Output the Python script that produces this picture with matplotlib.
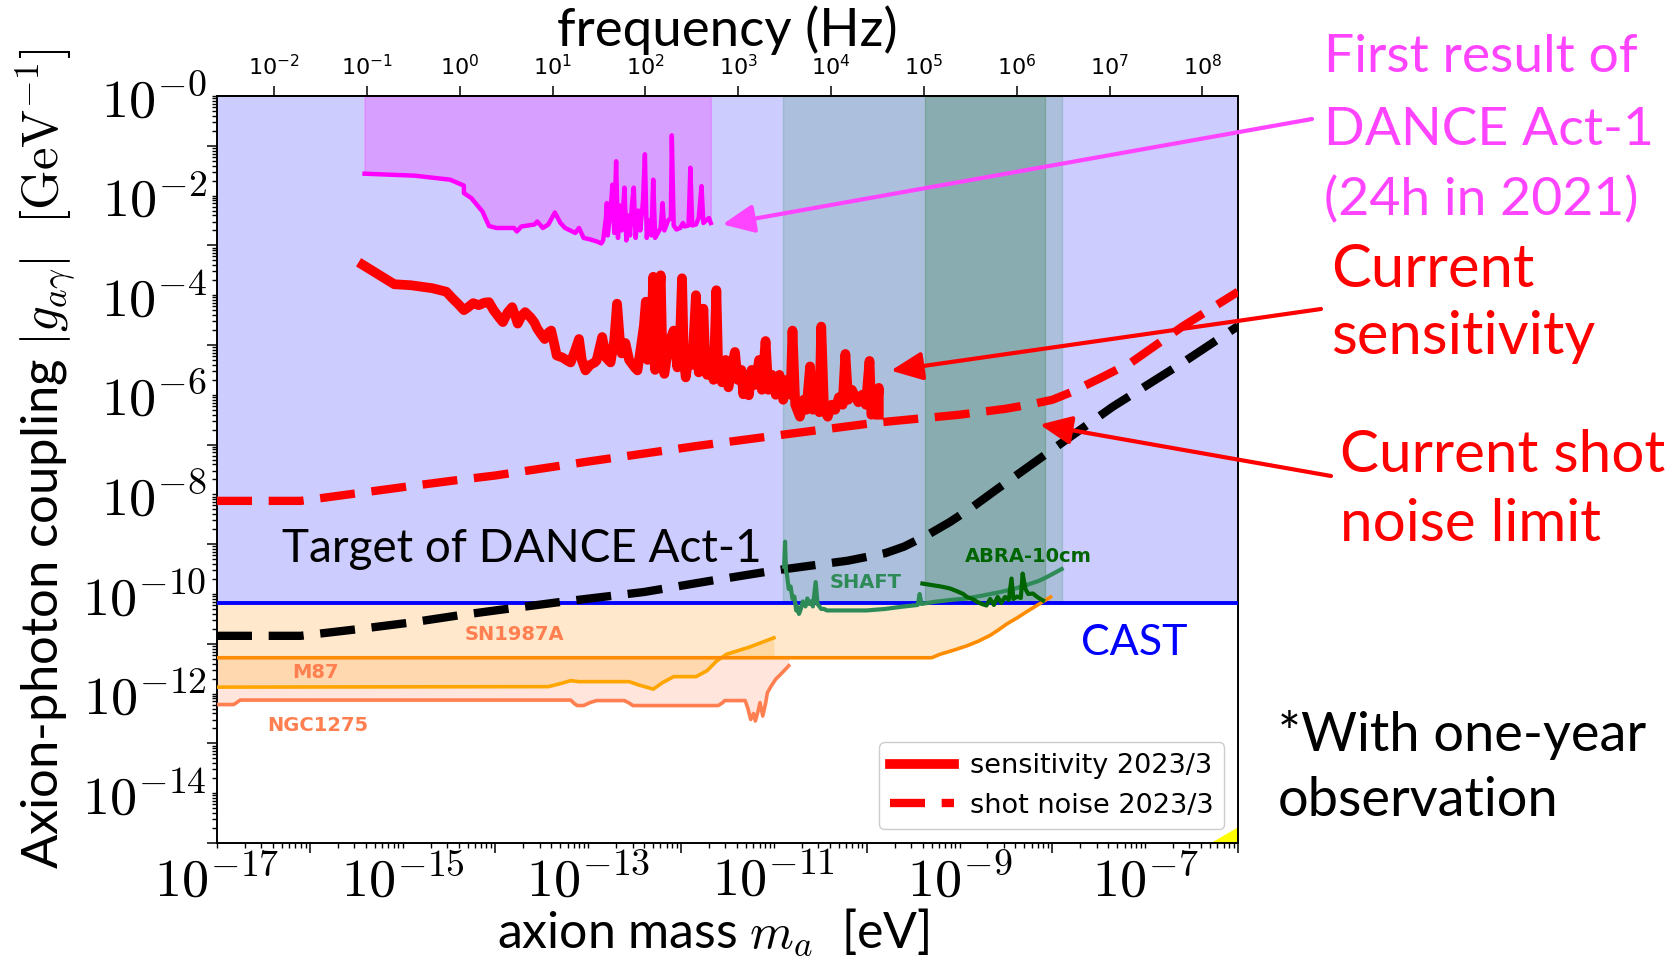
import numpy as np
import matplotlib
matplotlib.use("Agg")
import matplotlib.pyplot as plt
from matplotlib.ticker import NullLocator

plt.rcParams["mathtext.fontset"] = "cm"
plt.rcParams["font.family"] = ["Lato", "DejaVu Sans"]

H_EV_S = 4.135667696e-15  # Planck constant, eV s  (mass <-> frequency)

# ---- values: log10(mass / eV), log10(g / GeV^-1) ----
cast_limit = 6.6e-11
sn_level = 10 ** -11.28

dance21_logm = [-15.41, -14.87, -14.49, -14.34, -14.34, -14.26, -14.14, -14.07, -13.99, -13.80,
                -13.77, -13.72, -13.58, -13.55, -13.49, -13.43, -13.36, -13.30, -13.25, -13.14,
                -13.10, -13.05, -12.98, -12.91, -12.86, -12.84, -12.81, -12.80, -12.79, -12.76,
                -12.74, -12.72, -12.70, -12.68, -12.66, -12.64, -12.61, -12.59, -12.57, -12.55,
                -12.53, -12.51, -12.49, -12.46, -12.44, -12.41, -12.39, -12.37, -12.34, -12.32,
                -12.30, -12.28, -12.25, -12.22, -12.20, -12.18, -12.14, -12.11, -12.10, -12.08,
                -12.05, -12.01, -11.98, -11.96, -11.92, -11.90, -11.88, -11.84, -11.81, -11.78,
                -11.76, -11.73, -11.70, -11.68]
dance21_logg = [-1.56, -1.60, -1.68, -1.80, -1.95, -2.05, -2.32, -2.61, -2.65, -2.65,
                -2.72, -2.62, -2.58, -2.52, -2.65, -2.58, -2.34, -2.55, -2.65, -2.75,
                -2.65, -2.85, -2.88, -2.92, -2.96, -2.90, -2.45, -2.15, -2.80, -2.30,
                -1.78, -2.75, -1.31, -2.85, -2.20, -2.70, -1.84, -2.90, -2.40, -2.80,
                -2.20, -1.84, -2.85, -2.30, -2.70, -2.10, -1.17, -2.85, -2.50, -2.80,
                -1.68, -2.85, -2.75, -2.65, -2.15, -2.70, -2.50, -2.45, -0.79, -2.60,
                -2.68, -2.65, -2.55, -2.62, -2.60, -1.44, -2.60, -2.58, -2.45, -1.81,
                -2.55, -2.50, -2.45, -2.55]

sens_logm = [-15.43, -15.09, -14.91, -14.68, -14.53, -14.47, -14.40, -14.34, -14.30, -14.24,
             -14.18, -14.12, -14.07, -14.02, -13.96, -13.92, -13.87, -13.82, -13.79, -13.76,
             -13.72, -13.68, -13.62, -13.58, -13.55, -13.51, -13.47, -13.43, -13.40, -13.37,
             -13.34, -13.28, -13.22, -13.19, -13.14, -13.10, -13.07, -13.03, -12.98, -12.93,
             -12.91, -12.87, -12.85, -12.81, -12.76, -12.72, -12.69, -12.66, -12.64, -12.60,
             -12.56, -12.50, -12.47, -12.43, -12.40, -12.38, -12.36, -12.32, -12.30, -12.28,
             -12.25, -12.22, -12.20, -12.18, -12.15, -12.12, -12.08, -12.04, -12.01, -11.99,
             -11.97, -11.95, -11.91, -11.88, -11.84, -11.81, -11.78, -11.76, -11.74, -11.72,
             -11.68, -11.65, -11.62, -11.60, -11.56, -11.52, -11.49, -11.45, -11.42, -11.39,
             -11.35, -11.33, -11.30, -11.27, -11.24, -11.20, -11.16, -11.13, -11.09, -11.06,
             -11.02, -10.98, -10.94, -10.90, -10.86, -10.82, -10.80, -10.77, -10.72, -10.68,
             -10.65, -10.61, -10.58, -10.54, -10.51, -10.49, -10.46, -10.42, -10.38, -10.34,
             -10.30, -10.26, -10.23, -10.20, -10.16, -10.12, -10.09, -10.05, -10.01, -9.97,
             -9.95, -9.92, -9.89, -9.87, -9.87]
sens_logg = [-3.39, -3.78, -3.80, -3.86, -3.93, -4.05, -4.18, -4.30, -4.25, -4.16,
             -4.20, -4.15, -4.14, -4.30, -4.45, -4.54, -4.35, -4.24, -4.40, -4.57,
             -4.42, -4.34, -4.45, -4.55, -4.67, -4.78, -4.88, -4.75, -4.71, -4.95,
             -5.21, -5.25, -5.32, -5.35, -5.10, -4.88, -5.30, -5.51, -5.40, -5.35,
             -5.31, -5.00, -4.84, -5.25, -5.35, -4.90, -4.17, -4.90, -5.17, -4.96,
             -5.30, -5.45, -5.51, -5.00, -4.60, -4.13, -5.30, -4.80, -3.63, -5.50,
             -4.60, -3.60, -5.40, -5.58, -5.20, -4.90, -4.71, -5.45, -4.80, -3.66,
             -5.30, -5.65, -5.10, -5.40, -4.00, -5.55, -5.20, -4.27, -5.30, -5.60,
             -5.30, -5.70, -3.90, -5.50, -5.75, -5.30, -5.85, -5.40, -5.14, -5.70,
             -5.50, -5.99, -5.60, -6.01, -5.50, -5.80, -5.30, -5.90, -4.92, -5.90,
             -5.60, -6.00, -5.60, -6.10, -5.70, -6.00, -4.71, -6.20, -6.44, -6.10,
             -6.30, -5.43, -6.30, -6.10, -6.35, -4.63, -6.30, -6.44, -6.20, -6.30,
             -6.05, -6.20, -5.18, -6.10, -5.90, -6.05, -6.15, -6.00, -6.20, -5.32,
             -6.40, -6.20, -6.35, -5.86, -6.40]

shot_logm = [-17.0, -16.1, -15.5, -14.9, -14.4, -14.0, -13.0, -11.8, -10.9, -9.9,
             -9.0, -8.5, -8.2, -8.0, -7.8, -7.5, -7.15, -6.6, -6.0]
shot_logg = [-8.13, -8.13, -7.98, -7.83, -7.71, -7.62, -7.34, -7.02, -6.80, -6.56,
             -6.40, -6.28, -6.18, -6.10, -5.95, -5.68, -5.35, -4.63, -3.93]

target_logm = [-17.0, -16.1, -15.5, -14.9, -14.4, -14.0, -13.3, -12.4, -11.7, -11.0,
               -10.2, -9.8, -9.6, -9.35, -9.1, -8.85, -8.6, -8.3, -8.0, -7.35, -6.6, -6.0]
target_logg = [-10.84, -10.84, -10.71, -10.57, -10.43, -10.33, -10.16, -9.96, -9.74, -9.53,
               -9.33, -9.18, -9.05, -8.82, -8.55, -8.24, -7.90, -7.50, -7.10, -6.24, -5.36, -4.62]

shaft_logm = [-10.89, -10.88, -10.87, -10.86, -10.84, -10.82, -10.80, -10.78, -10.76, -10.75,
              -10.73, -10.71, -10.69, -10.66, -10.64, -10.62, -10.60, -10.58, -10.55, -10.53,
              -10.51, -10.49, -10.46, -10.43, -10.36, -10.2, -10.0, -9.8, -9.64, -9.45,
              -9.43, -9.41, -9.28, -9.1, -8.92, -8.75, -8.56, -8.4, -8.28, -8.15, -8.06,
              -7.98, -7.90]
shaft_logg = [-9.45, -8.95, -9.55, -9.60, -9.90, -9.85, -10.10, -10.05, -10.33, -10.25,
              -10.40, -10.30, -10.15, -10.25, -10.09, -10.20, -10.15, -10.25, -9.76, -10.20,
              -10.25, -10.30, -10.30, -10.33, -10.33, -10.33, -10.33, -10.30, -10.26, -10.22,
              -10.00, -10.20, -10.16, -10.12, -10.09, -10.03, -9.96, -9.89, -9.82, -9.74, -9.66,
              -9.58, -9.50]

abra_logm = [-9.40, -9.30, -9.20, -9.10, -9.02, -8.96, -8.92, -8.86, -8.81, -8.76,
             -8.71, -8.67, -8.63, -8.59, -8.55, -8.51, -8.47, -8.44, -8.42, -8.38,
             -8.34, -8.32, -8.29, -8.26, -8.21, -8.17, -8.13, -8.10]
abra_logg = [-9.79, -9.82, -9.85, -9.89, -9.95, -10.00, -10.06, -10.10, -10.16, -10.20,
             -10.23, -10.10, -10.22, -10.06, -10.18, -10.06, -10.12, -9.69, -10.10, -10.05,
             -10.08, -9.59, -9.90, -10.00, -9.99, -10.05, -10.10, -10.13]

sn_logm = [-17.0, -9.30, -9.21, -9.05, -8.92, -8.80, -8.67, -8.58, -8.49, -8.38, -8.28, -8.15, -8.02]
sn_logg = [-11.28, -11.28, -11.21, -11.12, -11.04, -10.95, -10.83, -10.72, -10.60, -10.48,
           -10.36, -10.21, -10.06]

m87_logm = [-17.0, -13.43, -13.30, -13.19, -13.10, -12.90, -12.70, -12.56, -12.45, -12.30,
            -12.20, -12.08, -11.84, -11.72, -11.62, -11.51, -11.27, -11.00]
m87_logg = [-11.87, -11.86, -11.80, -11.74, -11.76, -11.76, -11.76, -11.76, -11.83, -11.91,
            -11.78, -11.66, -11.66, -11.54, -11.35, -11.21, -11.07, -10.88]

ngc_logm = [-17.0, -16.82, -16.78, -16.75, -13.19, -13.15, -13.12, -13.05, -12.98, -12.91,
            -12.61, -12.55, -12.52, -11.60, -11.55, -11.53, -11.31, -11.28, -11.25, -11.22,
            -11.20, -11.17, -11.15, -11.12, -11.09, -11.07, -11.03, -10.98, -10.91, -10.84]
ngc_logg = [-12.22, -12.22, -12.17, -12.13, -12.13, -12.20, -12.24, -12.24, -12.18, -12.14,
            -12.14, -12.20, -12.24, -12.24, -12.18, -12.14, -12.14, -12.30, -12.52, -12.40,
            -12.55, -12.35, -12.18, -12.45, -12.20, -11.98, -11.85, -11.71, -11.58, -11.44]

shaft_band = [1.25e-11, 1.28e-8]
abra_band = [4.2e-10, 8.3e-9]
yellow_logm = [-6.37, -6.0]
yellow_logg = [-15.07, -14.67]


def arr(v):
    return 10.0 ** np.asarray(v)


fig = plt.figure(figsize=(16.7, 9.56), dpi=100)
ax = fig.add_axes([217 / 1670, 113 / 956, 1021 / 1670, 747 / 956])
ax.set_xscale("log")
ax.set_yscale("log")
ax.set_xlim(1e-17, 1e-6)
ax.set_ylim(1e-15, 1)

# excluded / target regions
ax.fill_between(ax.get_xlim(), cast_limit, 1, color="blue", alpha=0.2, lw=0, zorder=1)
ax.fill_between(arr(dance21_logm), arr(dance21_logg), 1, color="magenta", alpha=0.22, zorder=2)
ax.fill_between(shaft_band, cast_limit, 1, color="seagreen", alpha=0.2, zorder=2)
ax.fill_between(abra_band, cast_limit, 1, color="darkgreen", alpha=0.2, zorder=2)
ax.fill_between(arr(ngc_logm), arr(ngc_logg), sn_level, color="coral", alpha=0.2, lw=0, zorder=1)
ax.fill_between(arr(m87_logm), arr(m87_logg), sn_level, color="orange", alpha=0.2, lw=0, zorder=1)
ax.fill_between(arr(sn_logm), arr(sn_logg), cast_limit, color="darkorange", alpha=0.2, lw=0, zorder=1)
ax.fill_between(arr(yellow_logm), 1e-16, arr(yellow_logg), color="yellow", lw=0, zorder=2)

ax.axhline(cast_limit, color="blue", lw=2.8, zorder=4)

ax.plot(arr(ngc_logm), arr(ngc_logg), color="coral", lw=2.6, zorder=4)
ax.plot(arr(m87_logm), arr(m87_logg), color="orange", lw=2.6, zorder=4)
ax.plot(arr(sn_logm), arr(sn_logg), color="darkorange", lw=2.6, zorder=4)
ax.plot(arr(target_logm), arr(target_logg), color="black", lw=6, dashes=(4.2, 2.0), zorder=5)
ax.plot(arr(shaft_logm), arr(shaft_logg), color="seagreen", lw=3, zorder=6)
ax.plot(arr(abra_logm), arr(abra_logg), color="darkgreen", lw=3, zorder=6)
ax.plot(arr(dance21_logm), arr(dance21_logg), color="magenta", lw=3.2, zorder=6)
ax.plot(arr(sens_logm), arr(sens_logg), color="red", lw=7, zorder=6, label="sensitivity 2023/3")
ax.plot(arr(shot_logm), arr(shot_logg), color="red", lw=6, dashes=(4.2, 2.0), zorder=5,
        label="shot noise 2023/3")

# ticks: labels every second decade, long ticks on the decades in between
xt_major = [10.0 ** e for e in range(-16, -5, 2)]
ax.set_xticks(xt_major, labels=[""] * len(xt_major))
xt_minor, xt_lab = [], []
for e in range(-17, -6):
    for s in range(1, 10):
        if s == 1 and e % 2 == 0:
            continue
        xt_minor.append(s * 10.0 ** e)
        xt_lab.append(r"$10^{%d}$" % e if s == 1 else "")
ax.set_xticks(xt_minor, labels=xt_lab, minor=True)

yt_major = [10.0 ** e for e in range(-15, 0, 2)]
ax.set_yticks(yt_major, labels=[""] * len(yt_major))
yt_minor, yt_lab = [], []
for e in range(-15, 1):
    for s in range(1, 10):
        if (s == 1 and e % 2 == 1) or (e == 0 and s > 1):
            continue
        yt_minor.append(s * 10.0 ** e)
        yt_lab.append(r"$10^{-%d}$" % (-e) if s == 1 else "")
ax.set_yticks(yt_minor, labels=yt_lab, minor=True)

ax.tick_params(which="major", length=7, width=1.1)
ax.tick_params(which="minor", length=3.5, width=1.0, labelsize=39, pad=4)
for sp in ax.spines.values():
    sp.set_linewidth(1.4)

secax = ax.secondary_xaxis("top", functions=(lambda m: m / H_EV_S, lambda f: f * H_EV_S))
freq_exp = list(range(-2, 9))
secax.set_xticks([10.0 ** e for e in freq_exp], labels=[r"$10^{%d}$" % e for e in freq_exp],
                 math_fontfamily="dejavusans", fontsize=16)
secax.xaxis.set_minor_locator(NullLocator())
secax.tick_params(length=7, width=1.1, pad=5)
secax.spines["top"].set_linewidth(1.4)
secax.set_xlabel("frequency (Hz)", fontsize=38, labelpad=6)

ax.set_xlabel(r"axion mass $m_a$  [eV]", fontsize=36, labelpad=0)
ax.xaxis.set_label_coords(0.486, -0.085)
ax.set_ylabel(r"Axion-photon coupling $|g_{a\gamma}|\ \ [\mathrm{GeV}^{-1}]$", fontsize=36.5)
ax.yaxis.set_label_coords(-0.137, 0.515)

ax.legend(loc="lower right", prop={"family": "DejaVu Sans", "size": 19.5}, handlelength=2.35,
          handletextpad=0.6, framealpha=1.0)

# in-plot labels
W, H = 1670.0, 956.0


def ftext(x, y, s, **kw):
    fig.text(x / W, 1 - y / H, s, va="baseline", ha="left", **kw)


ftext(282, 562, "Target of DANCE Act-1", fontsize=33, color="black")
ftext(1081, 655, "CAST", fontsize=31, color="blue")
bold = dict(family="DejaVu Sans", fontweight="bold", fontsize=14)
ftext(830, 588, "SHAFT", color="seagreen", **bold)
ftext(965, 562, "ABRA-10cm", color="darkgreen", **bold)
ftext(465, 640, "SN1987A", color="coral", **bold)
ftext(292, 678, "M87", color="coral", **bold)
ftext(267, 731, "NGC1275", color="coral", **bold)

side_notes = [
    (["First result of", "DANCE Act-1", "(24h in 2021)"], "#FF44FF", 1324, [72, 145, 215], 38.5),
    (["Current", "sensitivity"], "red", 1331, [287, 354], 43),
    (["Current shot", "noise limit"], "red", 1340, [472, 541], 42),
    (["*With one-year", "observation"], "black", 1278, [751, 816], 39),
]
for lines, col, x0, ys, fs in side_notes:
    for s, y in zip(lines, ys):
        ftext(x0, y, s, fontsize=fs, color=col)

arrows = [
    ((-11.554, -2.578), (1312, 119), "#FF44FF"),
    ((-9.740, -5.515), (1321, 309), "red"),
    ((-8.135, -6.598), (1331, 476), "red"),
]
for (lm, lg), (tx, ty), col in arrows:
    ax.annotate("", xy=(10 ** lm, 10 ** lg), xycoords="data",
                xytext=(tx / W, 1 - ty / H), textcoords="figure fraction",
                arrowprops=dict(arrowstyle="-|>,head_length=0.4,head_width=0.18", mutation_scale=48,
                                color=col, lw=3, shrinkA=0, shrinkB=0), zorder=8)

fig.savefig("out.png", dpi=100)
